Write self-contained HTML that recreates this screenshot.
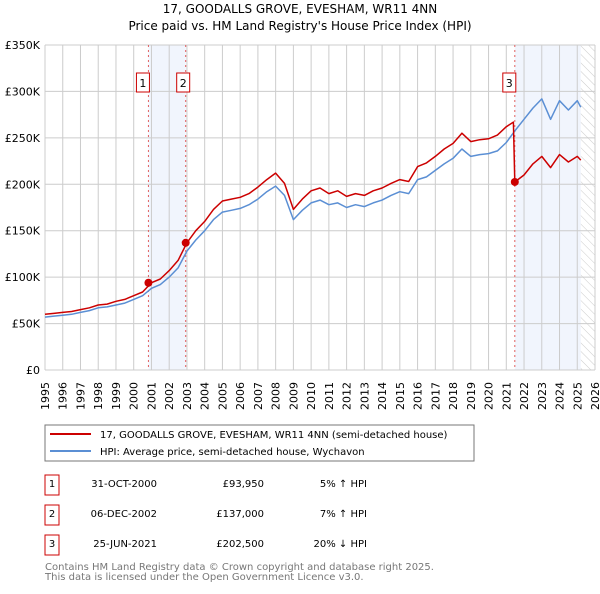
<!DOCTYPE html>
<html><head><meta charset="utf-8"><style>
body{margin:0;background:#fff;font-family:"DejaVu Sans","Liberation Sans",sans-serif;}
svg text{font-family:"DejaVu Sans","Liberation Sans",sans-serif;}
</style></head><body>
<svg id="chart" width="600" height="590" viewBox="0 0 600 590" xmlns="http://www.w3.org/2000/svg">
<defs><pattern id="hatch" width="6" height="6" patternUnits="userSpaceOnUse" patternTransform="rotate(-45)"><line x1="0" y1="0" x2="0" y2="6" stroke="#ccc" stroke-width="1"/></pattern></defs>
<text x="300" y="13" text-anchor="middle" font-size="12" fill="#000">17, GOODALLS GROVE, EVESHAM, WR11 4NN</text>
<text x="300" y="30" text-anchor="middle" font-size="12" fill="#000">Price paid vs. HM Land Registry's House Price Index (HPI)</text>
<g id="bg"></g><g id="grid"></g><g id="marks"></g><g id="axes"></g>
<rect x="45" y="425" width="429" height="36" fill="#fff" stroke="#777"/>
<line x1="50" y1="434" x2="91" y2="434" stroke="#cc0000" stroke-width="2"/>
<text x="100" y="438" font-size="10">17, GOODALLS GROVE, EVESHAM, WR11 4NN (semi-detached house)</text>
<line x1="50" y1="451" x2="91" y2="451" stroke="#5b8fd4" stroke-width="2"/>
<text x="100" y="455" font-size="10">HPI: Average price, semi-detached house, Wychavon</text>
<g font-size="10">
<rect x="45" y="475" width="14" height="20" fill="none" stroke="#cc0000"/><text x="52" y="487" text-anchor="middle">1</text>
<text x="157" y="487" text-anchor="end">31-OCT-2000</text><text x="264" y="487" text-anchor="end">£93,950</text><text x="367" y="487" text-anchor="end">5% ↑ HPI</text>
<rect x="45" y="505" width="14" height="20" fill="none" stroke="#cc0000"/><text x="52" y="517" text-anchor="middle">2</text>
<text x="157" y="517" text-anchor="end">06-DEC-2002</text><text x="264" y="517" text-anchor="end">£137,000</text><text x="367" y="517" text-anchor="end">7% ↑ HPI</text>
<rect x="45" y="535" width="14" height="20" fill="none" stroke="#cc0000"/><text x="52" y="547" text-anchor="middle">3</text>
<text x="157" y="547" text-anchor="end">25-JUN-2021</text><text x="264" y="547" text-anchor="end">£202,500</text><text x="367" y="547" text-anchor="end">20% ↓ HPI</text>
</g>
<text x="45" y="570" font-size="10" fill="#777">Contains HM Land Registry data © Crown copyright and database right 2025.</text>
<text x="45" y="580" font-size="10" fill="#777">This data is licensed under the Open Government Licence v3.0.</text>
</svg>
<script>
const hpiYears=[1995,1995.5,1996,1996.5,1997,1997.5,1998,1998.5,1999,1999.5,2000,2000.5,2001,2001.5,2002,2002.5,2003,2003.5,2004,2004.5,2005,2005.5,2006,2006.5,2007,2007.5,2008,2008.5,2009,2009.5,2010,2010.5,2011,2011.5,2012,2012.5,2013,2013.5,2014,2014.5,2015,2015.5,2016,2016.5,2017,2017.5,2018,2018.5,2019,2019.5,2020,2020.5,2021,2021.5,2022,2022.5,2023,2023.5,2024,2024.5,2025,2025.2];
const hpiValues=[57,58,59,60,62,64,67,68,70,72,76,80,88,92,100,110,128,140,150,162,170,172,174,178,184,192,198,188,162,172,180,183,178,180,175,178,176,180,183,188,192,190,205,208,215,222,228,238,230,232,233,236,245,258,270,282,292,270,290,280,290,283];
const priceYears=[1995,1995.5,1996,1996.5,1997,1997.5,1998,1998.5,1999,1999.5,2000,2000.5,2001,2001.5,2002,2002.5,2003,2003.5,2004,2004.5,2005,2005.5,2006,2006.5,2007,2007.5,2008,2008.5,2009,2009.5,2010,2010.5,2011,2011.5,2012,2012.5,2013,2013.5,2014,2014.5,2015,2015.5,2016,2016.5,2017,2017.5,2018,2018.5,2019,2019.5,2020,2020.5,2021,2021.4,2021.48,2022,2022.5,2023,2023.5,2024,2024.5,2025,2025.2];
const priceValues=[60,61,62,63,65,67,70,71,74,76,80,84,94,98,107,118,137,150,160,173,182,184,186,190,197,205,212,201,173,184,193,196,190,193,187,190,188,193,196,201,205,203,219,223,230,238,244,255,246,248,249,253,262,267,202.5,210,222,230,218,232,224,230,226];
const saleYears=[2000.83,2002.93,2021.48];
const saleValues=[93.95,137,202.5];
const saleLabels=["1","2","3"];
const yTicks=[0,50,100,150,200,250,300,350];
const yTickLabels=["£0","£50K","£100K","£150K","£200K","£250K","£300K","£350K"];
const xTicks=[1995,1996,1997,1998,1999,2000,2001,2002,2003,2004,2005,2006,2007,2008,2009,2010,2011,2012,2013,2014,2015,2016,2017,2018,2019,2020,2021,2022,2023,2024,2025,2026];

const NS="http://www.w3.org/2000/svg";
const L=45,R=595,T=45,B=370;
const X=y=>L+(y-1995)/(2026-1995)*(R-L);
const Y=v=>B-v/350*(B-T);
function mk(par,tag,at){const e=document.createElementNS(NS,tag);for(const k in at)e.setAttribute(k,at[k]);document.getElementById(par).appendChild(e);return e;}
let e=mk('bg','rect',{x:X(saleYears[0]),y:T,width:X(saleYears[1])-X(saleYears[0]),height:B-T,fill:'#eef3fc',opacity:0.8});


e=mk('bg','rect',{x:X(saleYears[2]),y:T,width:X(2025.2)-X(saleYears[2]),height:B-T,fill:'#eef3fc',opacity:0.8});


e=mk('bg','rect',{x:X(2025.2),y:T,width:R-X(2025.2),height:B-T,fill:'url(#hatch)'});


xTicks.forEach(t=>{const g=mk('grid','line',{x1:X(t),x2:X(t),y1:T,y2:B,stroke:'#cccccc','stroke-width':1});


const tx=mk('axes','text',{x:0,y:0,'text-anchor':'end','font-size':11,transform:'translate('+(X(t)+4)+','+(B+12)+') rotate(-90)'});tx.textContent=t;

});
yTicks.forEach((t,i)=>{const g=mk('grid','line',{x1:L,x2:R,y1:Y(t),y2:Y(t),stroke:'#cccccc','stroke-width':1});


const tx=mk('axes','text',{x:L-5,y:Y(t)+4,'text-anchor':'end','font-size':11});tx.textContent=yTickLabels[i];

});
saleYears.forEach((s,i)=>{const l=mk('marks','line',{x1:X(s),x2:X(s),y1:T,y2:B,stroke:'#e06060','stroke-width':1,'stroke-dasharray':'2,3'});


const bxX=X(s)-(i==1?9:12);
const bx=mk('marks','rect',{x:bxX,y:73,width:13,height:19,fill:'#fff',stroke:'#cc0000'});


const t=mk('marks','text',{x:bxX+6.5,y:87,'text-anchor':'middle','font-size':11});t.textContent=saleLabels[i];

});
function line(xs,vs,col,name){const d=xs.map((x,i)=>(i?'L':'M')+X(x).toFixed(1)+','+Y(vs[i]).toFixed(1)).join('');
const p=mk('marks','path',{d:d,fill:'none',stroke:col,'stroke-width':1.5,'stroke-linejoin':'round'});

}
line(hpiYears,hpiValues,'#5b8fd4','hpi-line');
line(priceYears,priceValues,'#cc0000','price-paid-line');
saleYears.forEach((s,i)=>{const c=mk('marks','circle',{cx:X(s),cy:Y(saleValues[i]),r:4,fill:'#cc0000'});

});
</script>
</body></html>
